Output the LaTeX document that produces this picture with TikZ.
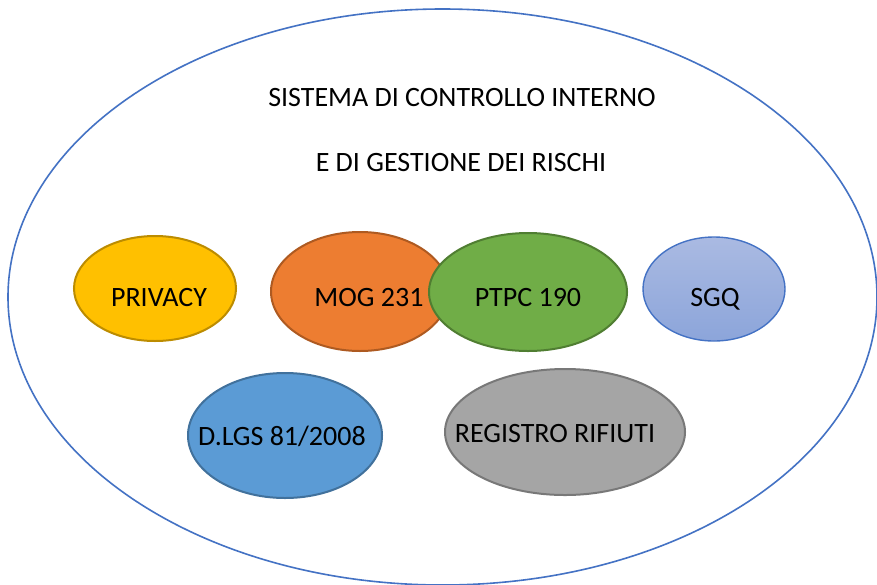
\documentclass[tikz,border=0pt]{standalone}
\usepackage{fontspec}
\setmainfont{Carlito}
\usetikzlibrary{shapes.geometric}
\definecolor{bigblue}{HTML}{4472C4}
\definecolor{privfill}{HTML}{FFC000}
\definecolor{privdraw}{HTML}{BC8C00}
\definecolor{mogfill}{HTML}{ED7D31}
\definecolor{mogdraw}{HTML}{AE5A21}
\definecolor{ptpcfill}{HTML}{70AD47}
\definecolor{ptpcdraw}{HTML}{507E32}
\definecolor{sgqtop}{HTML}{AABAE2}
\definecolor{sgqbot}{HTML}{8CA5DA}
\definecolor{dlgsfill}{HTML}{5B9BD5}
\definecolor{dlgsdraw}{HTML}{41719C}
\definecolor{regfill}{HTML}{A5A5A5}
\definecolor{regdraw}{HTML}{787878}
\tikzset{
  ell/.style={ellipse, inner sep=0pt, line width=2pt},
  lbl/.style={inner sep=0pt, font=\fontsize{28}{33}\selectfont, text=black},
}
\begin{document}
\begin{tikzpicture}[x=1pt,y=-1pt]
\useasboundingbox (0,0) rectangle (877,584);
\fill[white] (0,0) rectangle (877,584);
\node[ell, draw=bigblue, line width=1.6pt, minimum width=869pt, minimum height=576pt] (outer) at (442.5,297) {};
\node[lbl] (t1) at (462,98) {SISTEMA DI CONTROLLO INTERNO};
\node[lbl] (t2) at (461,163) {E DI GESTIONE DEI RISCHI};
\node[ell, draw=privdraw, fill=privfill, minimum width=162pt, minimum height=105pt] (priv) at (155,288.5) {};
\node[lbl] (privt) at (159,298) {PRIVACY};
\node[ell, draw=mogdraw, fill=mogfill, minimum width=178pt, minimum height=119pt] (mog) at (360,291.5) {};
\node[lbl] (mogt) at (369,298) {MOG 231};
\node[ell, draw=ptpcdraw, fill=ptpcfill, minimum width=198pt, minimum height=118pt] (ptpc) at (528,292) {};
\node[lbl] (ptpct) at (528,298) {PTPC 190};
\node[ell, draw=bigblue, line width=1.4pt, top color=sgqtop, bottom color=sgqbot, minimum width=142pt, minimum height=104pt] (sgq) at (714,289) {};
\node[lbl] (sgqt) at (715,299) {SGQ};
\node[ell, draw=dlgsdraw, fill=dlgsfill, minimum width=194pt, minimum height=125pt] (dlgs) at (285,435.5) {};
\node[lbl] (dlgst) at (282,436) {D.LGS 81/2008};
\node[ell, draw=regdraw, fill=regfill, minimum width=240pt, minimum height=126pt] (reg) at (565,432) {};
\node[lbl] (regt) at (555,434) {REGISTRO RIFIUTI};
\end{tikzpicture}
\end{document}
